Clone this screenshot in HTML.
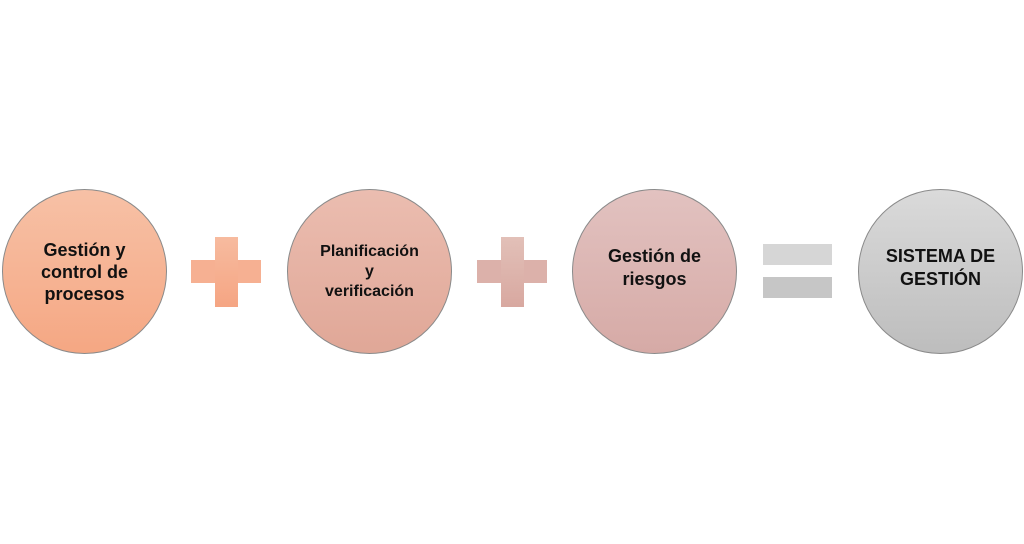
<!DOCTYPE html>
<html><head><meta charset="utf-8"><style>
body{margin:0;width:1024px;height:544px;background:#fff;position:relative;overflow:hidden;font-family:"Liberation Sans",sans-serif;font-weight:bold;color:#111}
.c{position:absolute;width:165px;height:165px;border-radius:50%;border:1px solid #8a8a8a;box-sizing:border-box;top:189px;display:flex;align-items:center;justify-content:center;text-align:center}
.r{position:absolute}
</style></head><body>
<div class="c" style="left:2px;background:linear-gradient(#f7c1a6,#f5a783);font-size:18px;line-height:22px">Gestión y<br>control de<br>procesos</div>
<div class="c" style="left:287px;background:linear-gradient(#ebbdb0,#e0a797);font-size:16px;line-height:20px">Planificación<br>y<br>verificación</div>
<div class="c" style="left:572px;background:linear-gradient(#e2c2c0,#d6aaa6);font-size:18px;line-height:23px;padding-bottom:8px">Gestión de<br>riesgos</div>
<div class="c" style="left:858px;background:linear-gradient(#dadada,#bdbdbd);font-size:18px;line-height:23px;padding-bottom:8px">SISTEMA DE<br>GESTIÓN</div>
<div class="r" style="left:191px;top:260px;width:70px;height:23px;background:#f6b092"></div>
<div class="r" style="left:215px;top:237px;width:23px;height:70px;background:linear-gradient(#f7bb9f,#f5a583)"></div>
<div class="r" style="left:477px;top:260px;width:70px;height:23px;background:#dcb1aa"></div>
<div class="r" style="left:501px;top:237px;width:23px;height:70px;background:linear-gradient(#e2c0b8,#d8a8a0)"></div>
<div class="r" style="left:763px;top:244px;width:69px;height:21px;background:#d6d6d6"></div>
<div class="r" style="left:763px;top:277px;width:69px;height:21px;background:#c6c6c6"></div>
</body></html>
